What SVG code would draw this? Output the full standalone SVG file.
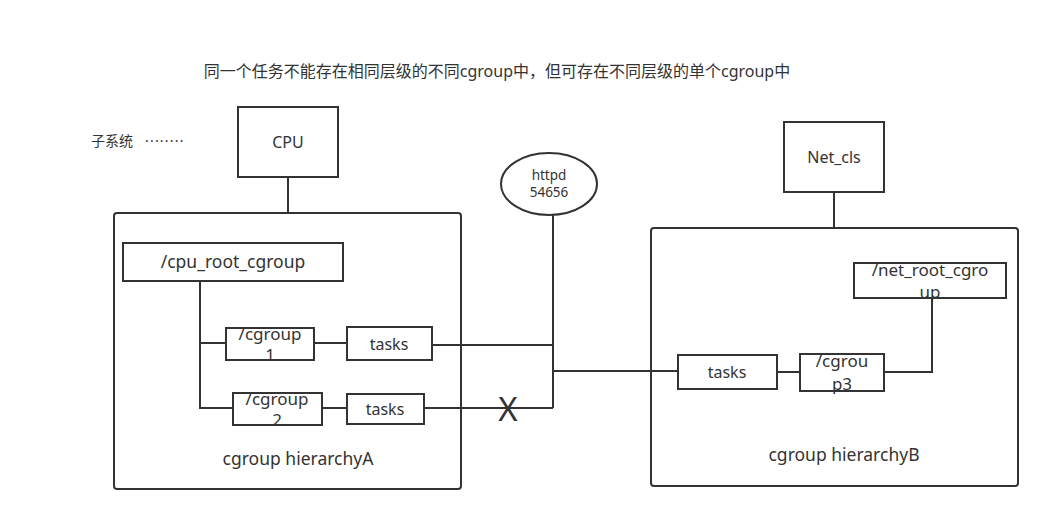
<svg xmlns="http://www.w3.org/2000/svg" width="1049" height="520" viewBox="0 0 1049 520">
<style>
.box{fill:#fff;stroke:#333;stroke-width:2}
.cont{fill:none;stroke:#333;stroke-width:2}
.ln{fill:none;stroke:#333;stroke-width:2}
text{font-family:"Noto Sans","Noto Sans CJK SC",sans-serif;fill:#333;text-anchor:middle}
.t16{font-size:16px}
.t17{font-size:17.5px}
.tw{font-size:17px}
.t14{font-size:13.5px}
</style>
<rect width="1049" height="520" fill="#fff"/>
<text x="497" y="77" class="t16">同一个任务不能存在相同层级的不同cgroup中，但可存在不同层级的单个cgroup中</text>
<text x="91" y="146" style="font-size:14px;text-anchor:start">子系统<tspan x="145" style="letter-spacing:1.2px">········</tspan></text>

<g id="hierarchyA">
<rect x="114" y="213" width="347" height="276" rx="3" class="cont"/>
<text x="298" y="465" class="t17">cgroup hierarchyA</text>
</g>
<g id="hierarchyB">
<rect x="651" y="228" width="367" height="258" rx="3" class="cont"/>
<text x="844" y="461" class="t17">cgroup hierarchyB</text>
</g>

<g id="connectors">
<path class="ln" d="M288 177V213"/>
<path class="ln" d="M834 192V228"/>
<path class="ln" d="M200 281V408H233M200 343H226"/>
<path class="ln" d="M314 343H347"/>
<path class="ln" d="M322 408H347"/>
<path class="ln" d="M432 345H553M424 408H553M553 215V408M553 371H678"/>
<path class="ln" d="M777 372H800"/>
<path class="ln" d="M932 298V372H884"/>
<text x="508" y="421" style="font-size:33px">X</text>
</g>

<g id="cpu">
<rect x="238" y="107" width="100" height="70" class="box"/>
<text x="288" y="148" class="t16">CPU</text>
</g>
<g id="net_cls">
<rect x="784" y="122" width="100" height="70" class="box"/>
<text x="834" y="163" class="t16">Net_cls</text>
</g>
<g id="httpd">
<ellipse cx="549" cy="184" rx="48" ry="31" class="box"/>
<text x="549" y="180" class="t14">httpd</text>
<text x="549" y="197" class="t14">54656</text>
</g>
<g id="cpu_root">
<rect x="123" y="243" width="220" height="38" class="box"/>
<text x="233" y="268" class="t17">/cpu_root_cgroup</text>
</g>
<g id="cgroup1">
<rect x="226" y="328" width="88" height="32" class="box"/>
<text x="270" y="340" class="tw">/cgroup</text>
<text x="270" y="361" class="tw">1</text>
</g>
<g id="tasks1">
<rect x="347" y="327" width="85" height="33" class="box"/>
<text x="389" y="350" class="t16">tasks</text>
</g>
<g id="cgroup2">
<rect x="233" y="393" width="89" height="32" class="box"/>
<text x="277" y="405" class="tw">/cgroup</text>
<text x="277" y="426" class="tw">2</text>
</g>
<g id="tasks2">
<rect x="347" y="394" width="77" height="30" class="box"/>
<text x="385" y="415" class="t16">tasks</text>
</g>
<g id="net_root">
<rect x="854" y="263" width="152" height="35" class="box"/>
<text x="930" y="276" class="tw">/net_root_cgro</text>
<text x="930" y="298" class="tw">up</text>
</g>
<g id="cgroup3">
<rect x="800" y="354" width="84" height="37" class="box"/>
<text x="842" y="367" class="tw">/cgrou</text>
<text x="842" y="390" class="tw">p3</text>
</g>
<g id="tasksB">
<rect x="678" y="355" width="99" height="34" class="box"/>
<text x="727" y="378" class="t16">tasks</text>
</g>
</svg>
